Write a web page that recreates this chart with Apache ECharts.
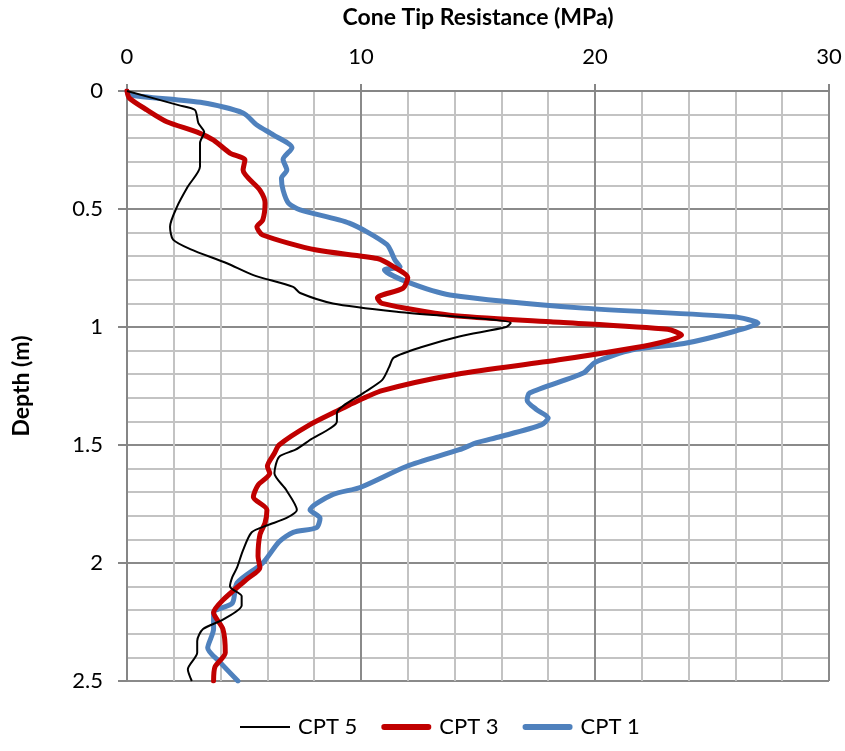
<!DOCTYPE html>
<html>
<head>
<meta charset="utf-8">
<script src="https://cdn.jsdelivr.net/npm/echarts@6/dist/echarts.min.js"></script>
<style>
  html, body { margin: 0; padding: 0; background: #fff; }
  #main { width: 845px; height: 751px; }
</style>
</head>
<body>
<div id="main"></div>
<script>
// depth (m) and cone tip resistance (MPa)
var cpt5Depth = [0, 0.06, 0.08, 0.136, 0.174, 0.22, 0.32, 0.405, 0.49, 0.575, 0.63, 0.67, 0.73, 0.78, 0.83, 0.856, 0.9, 0.936, 0.983, 1.0, 1.04, 1.085, 1.13, 1.17, 1.225, 1.28, 1.365, 1.40, 1.48, 1.52, 1.55, 1.62, 1.69, 1.775, 1.81, 1.84, 1.87, 1.945, 2.02, 2.06, 2.1, 2.14, 2.18, 2.24, 2.28, 2.33, 2.38, 2.45, 2.5];
var cpt5Qc = [0, 2.2, 2.9, 3.05, 3.3, 3.12, 3.12, 2.6, 2.14, 1.84, 1.97, 2.7, 4.27, 5.4, 7.1, 7.4, 8.8, 11.6, 16.4, 16.2, 14.2, 12.6, 11.4, 11.2, 10.9, 10.1, 8.97, 8.97, 7.8, 7.2, 6.5, 6.3, 6.8, 7.26, 6.8, 6.0, 5.33, 4.96, 4.7, 4.5, 4.4, 4.9, 4.9, 4.1, 3.25, 3.0, 3.0, 2.6, 2.77];

var cpt3Depth = [0, 0.03, 0.08, 0.13, 0.174, 0.208, 0.263, 0.292, 0.335, 0.42, 0.475, 0.547, 0.575, 0.61, 0.674, 0.71, 0.745, 0.79, 0.835, 0.877, 0.9, 0.95, 0.978, 1.01, 1.034, 1.076, 1.14, 1.2, 1.27, 1.33, 1.35, 1.415, 1.5, 1.535, 1.59, 1.62, 1.67, 1.72, 1.775, 1.83, 1.88, 1.97, 2.02, 2.07, 2.157, 2.21, 2.28, 2.38, 2.44, 2.5];
var cpt3Qc = [0, 0.1, 0.85, 1.7, 3.0, 3.7, 4.4, 5.04, 4.96, 5.68, 5.9, 5.8, 5.55, 5.8, 8.1, 10.7, 11.4, 12.0, 11.8, 10.7, 10.9, 13.8, 18.1, 23.1, 23.7, 22.35, 18.4, 14.1, 10.9, 9.5, 9.1, 7.8, 6.5, 6.3, 6.0, 6.1, 5.6, 5.4, 5.98, 5.9, 5.68, 5.6, 5.68, 5.1, 4.1, 3.7, 4.1, 4.2, 3.76, 3.7];

var cpt1Depth = [0, 0.017, 0.05, 0.093, 0.144, 0.186, 0.24, 0.29, 0.335, 0.37, 0.42, 0.475, 0.504, 0.56, 0.65, 0.716, 0.745, 0.758, 0.81, 0.864, 0.92, 0.957, 0.983, 1.02, 1.07, 1.097, 1.15, 1.195, 1.28, 1.31, 1.35, 1.385, 1.415, 1.466, 1.49, 1.52, 1.59, 1.68, 1.71, 1.775, 1.81, 1.85, 1.87, 1.91, 2.0, 2.085, 2.17, 2.21, 2.28, 2.36, 2.42, 2.5];
var cpt1Qc = [0, 0.1, 3.25, 4.96, 5.55, 6.25, 7.05, 6.67, 6.83, 6.6, 6.67, 6.9, 7.4, 9.5, 11.1, 11.45, 11.67, 11.0, 12.0, 13.8, 19.5, 25.9, 26.97, 25.9, 23.8, 21.6, 20.0, 19.5, 17.2, 17.1, 17.5, 18.0, 17.7, 15.9, 14.95, 14.2, 11.96, 9.96, 8.8, 7.82, 8.25, 8.1, 7.1, 6.5, 5.8, 4.7, 4.5, 3.7, 3.7, 3.45, 3.97, 4.74];

function pairs(qc, depth) {
  var out = [];
  for (var i = 0; i < qc.length; i++) {
    out.push([qc[i], depth[i]]);
  }
  return out;
}

var font = 'Lato, "Open Sans", sans-serif';
// thin line for the legend key of CPT 5 (tiny specks keep the box 6px tall)
var thinIcon = 'path://M0,0L0.05,0L0.05,0.05Z M0,2L52,2L52,4L0,4Z M0,6L0.05,6L0.05,5.95Z';
var thickIcon = 'path://M3,0L49,0Q52,0 52,3Q52,6 49,6L3,6Q0,6 0,3Q0,0 3,0Z';

var chart = echarts.init(document.getElementById('main'));

chart.setOption({
  animation: false,
  textStyle: { fontFamily: font },
  grid: { left: 127, right: 16, top: 91, bottom: 70 },
  legend: {
    bottom: 8,
    left: 235,
    itemWidth: 50,
    itemHeight: 6,
    itemGap: 24,
    textStyle: { fontSize: 22, color: '#000', fontFamily: font, padding: [0, 0, 0, 3] },
    data: [
      { name: 'CPT 5', icon: thinIcon, itemStyle: { color: '#000000' } },
      { name: 'CPT 3', icon: thickIcon, itemStyle: { color: '#c00000' } },
      { name: 'CPT 1', icon: thickIcon, itemStyle: { color: '#4f81bd' } }
    ]
  },
  xAxis: {
    type: 'value',
    position: 'top',
    min: 0,
    max: 30,
    interval: 10,
    name: 'Cone Tip Resistance (MPa)',
    nameLocation: 'middle',
    nameGap: 62,
    nameTextStyle: { fontSize: 23, fontWeight: 'bold', color: '#000', fontFamily: font },
    axisLine: { lineStyle: { color: '#868686', width: 2 } },
    axisTick: { show: true, length: 7, lineStyle: { color: '#868686', width: 2 } },
    axisLabel: { fontSize: 22, color: '#000', margin: 23, fontFamily: font },
    splitLine: { lineStyle: { color: '#8a8a8a', width: 2 } },
    minorTick: { show: true, splitNumber: 5, length: 0 },
    minorSplitLine: { show: true, lineStyle: { color: '#c3c3c3', width: 2 } }
  },
  yAxis: {
    type: 'value',
    inverse: true,
    min: 0,
    max: 2.5,
    interval: 0.5,
    name: 'Depth (m)',
    nameLocation: 'middle',
    nameGap: 94,
    nameRotate: 90,
    nameTextStyle: { fontSize: 23, fontWeight: 'bold', color: '#000', fontFamily: font },
    axisLine: { show: true, lineStyle: { color: '#868686', width: 2 } },
    axisTick: { show: true, length: 9, lineStyle: { color: '#868686', width: 2 } },
    axisLabel: {
      fontSize: 22,
      color: '#000',
      margin: 24,
      fontFamily: font,
      formatter: function (v) { return String(v); }
    },
    splitLine: { lineStyle: { color: '#8a8a8a', width: 2 } },
    minorTick: { show: true, splitNumber: 5, length: 0 },
    minorSplitLine: { show: true, lineStyle: { color: '#c3c3c3', width: 2 } }
  },
  series: [{
    name: 'CPT 5',
    type: 'line',
    data: pairs(cpt5Qc, cpt5Depth),
    symbol: 'none',
    smooth: 0.25,
    color: '#000000',
    lineStyle: { width: 2, color: '#000000' },
    z: 4
  }, {
    name: 'CPT 3',
    type: 'line',
    data: pairs(cpt3Qc, cpt3Depth),
    symbol: 'none',
    smooth: 0.25,
    color: '#c00000',
    lineStyle: { width: 5, color: '#c00000', cap: 'round' },
    z: 3
  }, {
    name: 'CPT 1',
    type: 'line',
    data: pairs(cpt1Qc, cpt1Depth),
    symbol: 'none',
    smooth: 0.25,
    color: '#4f81bd',
    lineStyle: { width: 5, color: '#4f81bd', cap: 'round' },
    z: 2
  }]
});
</script>
</body>
</html>
